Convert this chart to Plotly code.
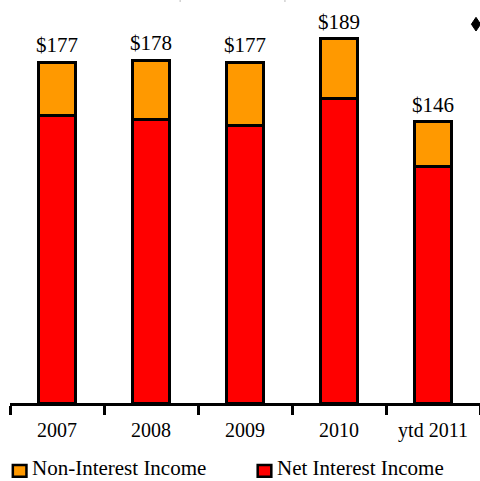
import plotly.graph_objects as go

# Revenue by year, $ millions
years = ["2007", "2008", "2009", "2010", "ytd 2011"]
net_interest = [149, 147, 144, 158, 123]
non_interest = [28, 31, 33, 31, 23]
totals = [a + b for a, b in zip(net_interest, non_interest)]
total_labels = ["$%d" % t for t in totals]

RED = "#FF0000"
ORANGE = "#FF9900"
SERIF = "Liberation Serif, Times New Roman, serif"

fig = go.Figure()
fig.add_trace(go.Bar(
    x=years, y=net_interest, name="Net Interest Income",
    marker=dict(color=RED, line=dict(color="black", width=3)),
    width=0.385, showlegend=False,
))
fig.add_trace(go.Bar(
    x=years, y=non_interest, name="Non-Interest Income",
    marker=dict(color=ORANGE, line=dict(color="black", width=3)),
    width=0.385, showlegend=False,
))

# total value labels above each stack (positioned by category index)
for i, (tot, lab) in enumerate(zip(totals, total_labels)):
    fig.add_annotation(
        x=i, y=tot, xref="x", yref="y", text=lab, showarrow=False,
        yanchor="bottom", yshift=3,
        font=dict(family=SERIF, size=21, color="black"),
    )

# hand-drawn legend below the axis
legend_items = [("Non-Interest Income", ORANGE, 0.006), ("Net Interest Income", RED, 0.527)]
for label, color, x0 in legend_items:
    fig.add_shape(
        type="rect", xref="paper", yref="paper",
        x0=x0, x1=x0 + 0.029, y0=-0.183, y1=-0.154,
        fillcolor=color, line=dict(color="black", width=2.5),
    )
    fig.add_annotation(
        xref="paper", yref="paper", x=x0 + 0.037, y=-0.162,
        text=label, showarrow=False, xanchor="left", yanchor="middle",
        font=dict(family=SERIF, size=21, color="black"),
    )

# diamond marker fragment at top right
cx, cy, hw, hh = 0.9915, 0.940, 0.0098, 0.017
fig.add_shape(
    type="path", xref="paper", yref="paper",
    path=f"M {cx - hw} {cy} L {cx} {cy + hh} L {cx + hw} {cy} L {cx} {cy - hh} Z",
    fillcolor="black", line=dict(color="black", width=1),
)

# faint gridline stubs along the top edge
for xp in (0.362, 0.585):
    fig.add_shape(
        type="line", xref="paper", yref="paper",
        x0=xp, x1=xp, y0=0.995, y1=1.0,
        line=dict(color="#BBBBBB", width=1),
    )

fig.update_layout(
    barmode="stack",
    width=480, height=481,
    margin=dict(l=10, r=0, t=0, b=78),
    paper_bgcolor="white", plot_bgcolor="white",
    xaxis=dict(
        type="category", range=[-0.5, 4.5], categoryorder="array",
        categoryarray=years, showline=True, linecolor="black", linewidth=3,
        ticks="outside", tickson="boundaries", ticklen=9, tickwidth=3,
        tickcolor="black", showgrid=False, tickangle=0, ticklabelstandoff=7,
        tickfont=dict(family=SERIF, size=20, color="black"),
    ),
    yaxis=dict(range=[0, 209.2], visible=False, showgrid=False),
)

fig.write_html("out.html")
